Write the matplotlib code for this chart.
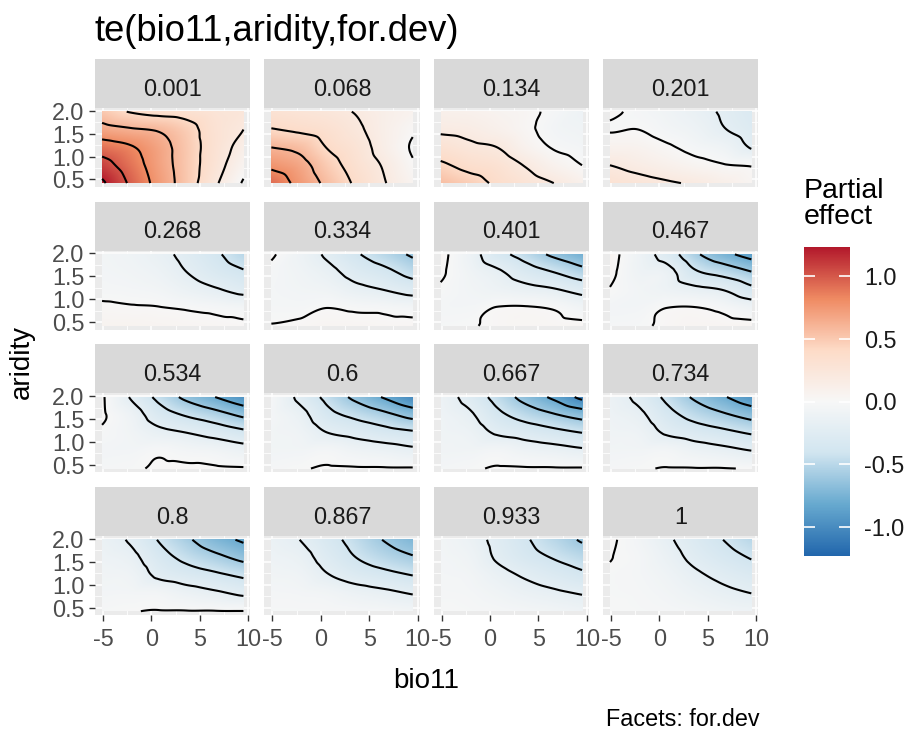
import numpy as np
import matplotlib
matplotlib.use("Agg")
import matplotlib.pyplot as plt
import matplotlib.tri as mtri
from matplotlib.colors import LinearSegmentedColormap, Normalize
from matplotlib.cm import ScalarMappable

plt.rcParams['font.family'] = ['Liberation Sans', 'DejaVu Sans']

# ---------------------------------------------------------------------------
# Partial effect of te(bio11, aridity, for.dev), tabulated per for.dev facet.
# Rows follow aridity_nodes (low -> high), columns follow bio11_nodes.
# ---------------------------------------------------------------------------
facet_labels = ["0.001", "0.068", "0.134", "0.201",
                "0.268", "0.334", "0.401", "0.467",
                "0.534", "0.6", "0.667", "0.734",
                "0.8", "0.867", "0.933", "1"]

bio11_nodes = [-5.1, -2.18, 0.74, 3.66, 6.58, 9.5]
aridity_nodes = [0.42, 0.81, 1.20, 1.59, 1.98]

effect_0001 = [[1.23, 0.97, 0.73, 0.50, 0.23, -0.02],
               [1.08, 0.90, 0.70, 0.50, 0.28, 0.06],
               [0.90, 0.82, 0.68, 0.50, 0.30, 0.13],
               [0.67, 0.62, 0.58, 0.47, 0.30, 0.20],
               [0.50, 0.39, 0.34, 0.32, 0.27, 0.24]]
effect_0068 = [[0.92, 0.74, 0.55, 0.37, 0.21, 0.06],
               [0.76, 0.67, 0.48, 0.32, 0.18, 0.02],
               [0.60, 0.55, 0.39, 0.28, 0.13, -0.02],
               [0.41, 0.37, 0.32, 0.23, 0.12, 0.02],
               [0.30, 0.27, 0.24, 0.19, 0.12, 0.07]]
effect_0134 = [[0.55, 0.47, 0.37, 0.28, 0.20, 0.10],
               [0.43, 0.35, 0.30, 0.19, 0.08, 0.00],
               [0.30, 0.24, 0.20, 0.08, -0.01, -0.05],
               [0.17, 0.15, 0.10, 0.03, -0.05, -0.08],
               [0.10, 0.09, 0.06, 0.03, -0.03, -0.10]]
effect_0201 = [[0.30, 0.26, 0.22, 0.18, 0.12, 0.05],
               [0.20, 0.15, 0.10, 0.05, 0.01, -0.01],
               [0.08, 0.07, 0.02, -0.04, -0.09, -0.21],
               [-0.01, 0.00, -0.05, -0.10, -0.19, -0.27],
               [0.03, -0.03, -0.08, -0.14, -0.22, -0.30]]
effect_0268 = [[0.06, 0.06, 0.05, 0.04, 0.03, 0.02],
               [0.02, 0.01, 0.005, -0.01, -0.03, -0.05],
               [-0.03, -0.04, -0.06, -0.12, -0.18, -0.25],
               [-0.05, -0.07, -0.11, -0.20, -0.30, -0.38],
               [-0.06, -0.09, -0.15, -0.25, -0.37, -0.50]]
effect_0334 = [[0.005, 0.02, 0.04, 0.04, 0.03, 0.03],
               [-0.03, -0.03, 0.00, -0.02, -0.03, -0.05],
               [-0.04, -0.06, -0.08, -0.15, -0.20, -0.27],
               [-0.03, -0.08, -0.15, -0.27, -0.35, -0.47],
               [0.02, -0.10, -0.23, -0.38, -0.50, -0.63]]
effect_0401 = [[-0.02, -0.01, 0.02, 0.03, 0.03, 0.03],
               [-0.04, -0.04, 0.005, 0.01, -0.01, -0.07],
               [-0.015, -0.06, -0.10, -0.14, -0.18, -0.26],
               [0.02, -0.08, -0.17, -0.30, -0.40, -0.52],
               [0.04, -0.11, -0.33, -0.48, -0.64, -0.77]]
effect_0467 = [[-0.03, -0.02, 0.02, 0.04, 0.04, 0.04],
               [-0.05, -0.05, 0.00, 0.005, -0.03, -0.09],
               [-0.005, -0.06, -0.10, -0.15, -0.20, -0.34],
               [0.03, -0.09, -0.13, -0.37, -0.47, -0.59],
               [0.05, -0.10, -0.28, -0.56, -0.74, -0.88]]
effect_0534 = [[-0.03, -0.02, 0.015, 0.02, 0.015, 0.01],
               [-0.05, -0.05, -0.02, -0.05, -0.07, -0.12],
               [-0.02, -0.07, -0.15, -0.20, -0.27, -0.35],
               [0.02, -0.10, -0.30, -0.42, -0.52, -0.64],
               [0.02, -0.21, -0.45, -0.65, -0.80, -0.95]]
effect_0600 = [[-0.03, -0.01, 0.01, 0.01, 0.01, 0.01],
               [-0.06, -0.06, -0.04, -0.09, -0.12, -0.16],
               [-0.06, -0.09, -0.20, -0.26, -0.32, -0.37],
               [-0.04, -0.14, -0.34, -0.45, -0.55, -0.67],
               [-0.03, -0.24, -0.46, -0.65, -0.82, -1.00]]
effect_0667 = [[-0.04, -0.02, 0.01, 0.01, 0.01, 0.01],
               [-0.07, -0.07, -0.05, -0.10, -0.13, -0.17],
               [-0.08, -0.11, -0.22, -0.28, -0.34, -0.40],
               [-0.09, -0.17, -0.35, -0.48, -0.58, -0.68],
               [-0.11, -0.26, -0.47, -0.67, -0.84, -1.05]]
effect_0734 = [[-0.03, -0.015, 0.005, 0.005, 0.005, -0.005],
               [-0.06, -0.06, -0.05, -0.11, -0.15, -0.20],
               [-0.08, -0.10, -0.22, -0.29, -0.35, -0.42],
               [-0.10, -0.16, -0.33, -0.47, -0.57, -0.67],
               [-0.12, -0.24, -0.44, -0.63, -0.78, -0.93]]
effect_0800 = [[-0.02, -0.005, 0.005, 0.005, 0.005, 0.003],
               [-0.05, -0.05, -0.06, -0.12, -0.17, -0.23],
               [-0.07, -0.09, -0.23, -0.30, -0.36, -0.43],
               [-0.10, -0.15, -0.32, -0.45, -0.55, -0.65],
               [-0.13, -0.22, -0.41, -0.57, -0.72, -0.83]]
effect_0867 = [[-0.02, -0.02, -0.02, -0.03, -0.04, -0.06],
               [-0.04, -0.05, -0.07, -0.12, -0.16, -0.21],
               [-0.07, -0.09, -0.19, -0.28, -0.34, -0.40],
               [-0.10, -0.14, -0.27, -0.40, -0.50, -0.58],
               [-0.13, -0.20, -0.33, -0.47, -0.61, -0.72]]
effect_0933 = [[-0.01, -0.02, -0.03, -0.05, -0.07, -0.10],
               [-0.03, -0.04, -0.08, -0.13, -0.17, -0.21],
               [-0.04, -0.06, -0.14, -0.22, -0.29, -0.36],
               [-0.05, -0.09, -0.22, -0.33, -0.41, -0.49],
               [-0.06, -0.12, -0.25, -0.38, -0.50, -0.62]]
effect_1000 = [[-0.01, -0.02, -0.03, -0.05, -0.08, -0.10],
               [-0.02, -0.03, -0.06, -0.11, -0.16, -0.20],
               [-0.02, -0.04, -0.09, -0.17, -0.24, -0.30],
               [0.005, -0.04, -0.13, -0.24, -0.33, -0.41],
               [0.02, -0.06, -0.17, -0.29, -0.40, -0.50]]

effects = [effect_0001, effect_0068, effect_0134, effect_0201,
           effect_0268, effect_0334, effect_0401, effect_0467,
           effect_0534, effect_0600, effect_0667, effect_0734,
           effect_0800, effect_0867, effect_0933, effect_1000]

x_ticks = [-5, 0, 5, 10]
x_ticklabels = ["-5", "0", "5", "10"]
y_ticks = [0.5, 1.0, 1.5, 2.0]
y_ticklabels = ["0.5", "1.0", "1.5", "2.0"]
cbar_ticks = [-1.0, -0.5, 0.0, 0.5, 1.0]
cbar_ticklabels = ["-1.0", "-0.5", "0.0", "0.5", "1.0"]
contour_levels = np.round(np.arange(-1.2, 1.21, 0.2), 1)

# RdBu (ColorBrewer, 7 classes) reversed, as used by scale_fill_distiller
rdbu = ["#2166AC", "#67A9CF", "#D1E5F0", "#F7F7F7", "#FDDBC7", "#EF8A62", "#B2182B"]
cmap = LinearSegmentedColormap.from_list("rdbu_div", rdbu, N=512)
lim = max(abs(v) for e in effects for row in e for v in row)
norm = Normalize(vmin=-lim, vmax=lim)

# ---------------------------------------------------------------------------
W, H = 912, 731
fig = plt.figure(figsize=(W / 100, H / 100), dpi=100)


def rect(left, top, width, height):
    return [left / W, 1 - (top + height) / H, width / W, height / H]


col_left = [95 + 169.3 * c for c in range(4)]
panel_w = 155.5
panel_top = [108 + 142.7 * r for r in range(4)]
panel_h = 79
strip_h = 49
xlim = (-5.83, 10.23)
ylim = (0.335, 2.06)

TICK_COL = "#4D4D4D"
TXT_SMALL = 16.8

# smooth surface on a fine mesh: cubic interpolation over a triangulated node grid
nu, nv = len(bio11_nodes), len(aridity_nodes)
uu, vv = np.meshgrid(np.arange(nu), np.arange(nv))
tris = []
for j in range(nv - 1):
    for i in range(nu - 1):
        a = j * nu + i
        tris.append([a, a + 1, a + nu + 1])
        tris.append([a, a + nu + 1, a + nu])
triang = mtri.Triangulation(uu.ravel().astype(float), vv.ravel().astype(float), tris)
uf = np.linspace(0, nu - 1, 150)
vf = np.linspace(0, nv - 1, 90)
UF, VF = np.meshgrid(uf, vf)
xf = np.interp(uf, np.arange(nu), bio11_nodes)
yf = np.interp(vf, np.arange(nv), aridity_nodes)
XF, YF = np.meshgrid(xf, yf)

for k, (label, eff) in enumerate(zip(facet_labels, effects)):
    r, c = divmod(k, 4)
    ax = fig.add_axes(rect(col_left[c], panel_top[r], panel_w, panel_h))
    ax.set_facecolor("#EBEBEB")
    for s in ax.spines.values():
        s.set_visible(False)
    ax.set_xlim(*xlim)
    ax.set_ylim(*ylim)
    ax.set_xticks(x_ticks)
    ax.set_xticks([-2.5, 2.5, 7.5], minor=True)
    ax.set_yticks(y_ticks)
    ax.set_yticks([0.75, 1.25, 1.75], minor=True)
    ax.grid(which="major", color="white", lw=1.1, zorder=0)
    ax.grid(which="minor", color="white", lw=0.55, zorder=0)
    ax.set_axisbelow(True)
    ax.tick_params(which="minor", length=0)
    ax.tick_params(which="major", length=4.5, width=1.0, color="#333333",
                   labelsize=TXT_SMALL, labelcolor=TICK_COL)
    ax.tick_params(axis="x", pad=4.5)
    ax.tick_params(axis="y", pad=3)
    if c == 0:
        ax.set_yticklabels(y_ticklabels)
    else:
        ax.tick_params(axis="y", which="major", length=0, labelleft=False)
    if r == 3:
        ax.set_xticklabels(x_ticklabels)
    else:
        ax.tick_params(axis="x", which="major", length=0, labelbottom=False)

    interp = mtri.CubicTriInterpolator(triang, np.asarray(eff, float).ravel(), kind="geom")
    zf = interp(UF, VF)
    ax.imshow(zf, extent=(xf[0], xf[-1], yf[0], yf[-1]), origin="lower",
              aspect="auto", cmap=cmap, norm=norm, interpolation="bilinear", zorder=1)
    ax.contour(XF, YF, zf, levels=contour_levels, colors="black",
               linewidths=1.5, linestyles="solid", zorder=2)

    sax = fig.add_axes(rect(col_left[c], panel_top[r] - strip_h, panel_w, strip_h))
    sax.set_facecolor("#D9D9D9")
    sax.set_xticks([])
    sax.set_yticks([])
    for s in sax.spines.values():
        s.set_visible(False)
    sax.text(0.5, 0.25, label, ha="center", va="baseline", fontsize=TXT_SMALL,
             color="#1A1A1A", transform=sax.transAxes)

# titles
fig.text(95 / W, 1 - 41 / H, "te(bio11,aridity,for.dev)", fontsize=26.2,
         ha="left", va="baseline", color="black")
fig.text(426 / W, 1 - 681 / H, "bio11", fontsize=20, ha="center", va="center")
fig.text(22 / W, 1 - 362 / H, "aridity", fontsize=20, ha="center", va="center",
         rotation=90)
fig.text(760 / W, 1 - 726 / H, "Facets: for.dev", fontsize=TXT_SMALL,
         ha="right", va="baseline")

# colour bar legend
cax = fig.add_axes(rect(804, 247, 46, 309))
cb = fig.colorbar(ScalarMappable(norm=norm, cmap=cmap), cax=cax)
cb.outline.set_visible(False)
cb.set_ticks(cbar_ticks)
cb.set_ticklabels(cbar_ticklabels)
cax.tick_params(direction="in", left=True, right=True, length=8, width=1.2,
                color="white", labelcolor="#1A1A1A", labelsize=TXT_SMALL, pad=10)
fig.text(804 / W, 1 - 178 / H, "Partial\neffect", fontsize=20.5, ha="left",
         va="top", linespacing=1.0)

fig.savefig("out.png", dpi=100)
